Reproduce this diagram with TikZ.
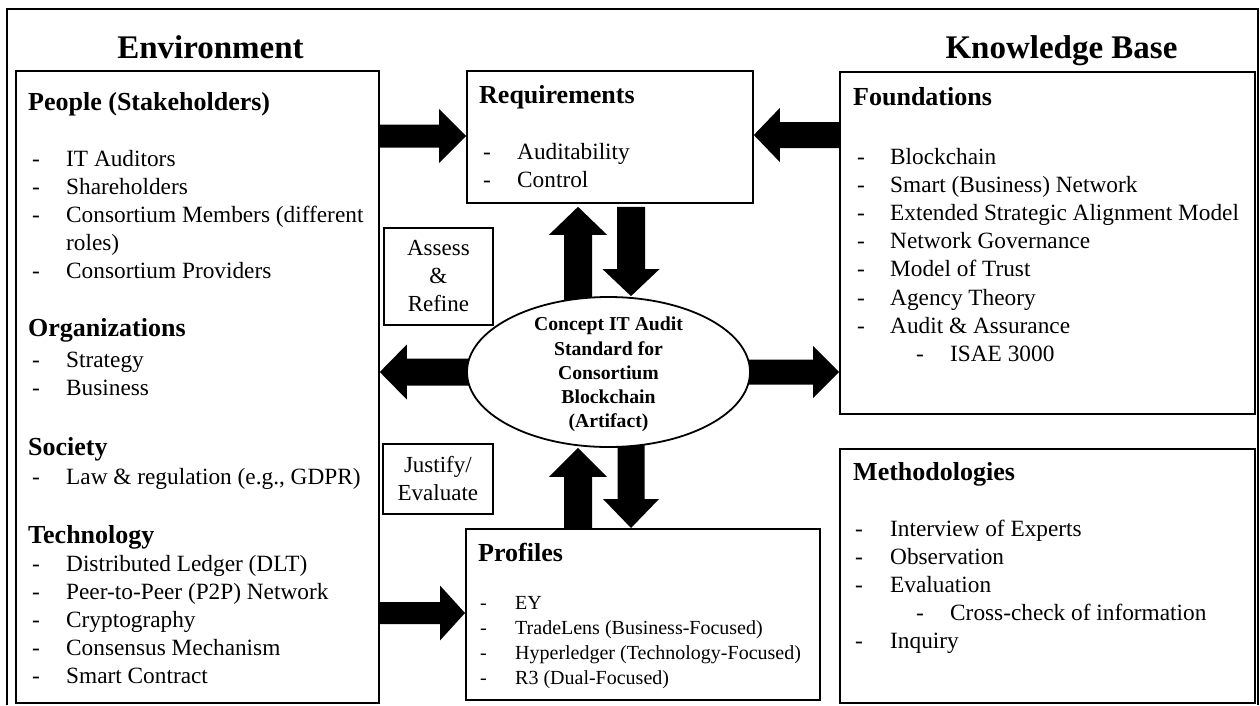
\documentclass[tikz,border=0pt]{standalone}
\usepackage{fontspec}
\setmainfont[Ligatures=NoCommon]{Liberation Serif}
\usetikzlibrary{calc,shapes.geometric,backgrounds}

% block arrow: from, to, half shaft width, half head width, head length
\newcommand\fatarrow[5]{%
  \coordinate (fa) at (#1);
  \coordinate (fb) at (#2);
  \coordinate (fh) at ($(fb)!#5!(fa)$);
  \fill[arrowfill] ($(fa)!#3!90:(fb)$) -- ($(fh)!#3!-90:(fa)$) -- ($(fh)!#4!-90:(fa)$)
     -- (fb) -- ($(fh)!#4!90:(fa)$) -- ($(fh)!#3!90:(fa)$) -- ($(fa)!#3!-90:(fb)$) -- cycle;
}

\begin{document}
\begin{tikzpicture}[x=1pt,y=-1pt,
  box/.style={draw, line width=1.8pt, inner sep=0pt, anchor=north west},
  frame/.style={draw, line width=2pt},
  hd/.style={font=\fontsize{33}{40}\selectfont\bfseries, anchor=base, inner sep=0pt},
  ttl/.style={font=\fontsize{26}{31}\selectfont\bfseries, anchor=base west, inner sep=0pt},
  lst/.style={font=\fontsize{23.3}{28.2}\selectfont, anchor=base west, inner sep=0pt},
  plst/.style={font=\fontsize{20}{25}\selectfont, anchor=base west, inner sep=0pt},
  note/.style={box, align=center, font=\fontsize{23}{28}\selectfont},
  arttxt/.style={align=center, inner sep=0pt, font=\fontsize{19.7}{24.2}\selectfont\bfseries},
  arrowfill/.style={fill=black}]
\useasboundingbox (0,0) rectangle (1260,705);

% outer frame
\draw[frame] (7,705) -- (7,9) -- (1258,9) -- (1258,705);

% column headings
\node[hd] (envH) at (210.5,58) {Environment};
\node[hd] (kbH) at (1061.5,58) {Knowledge Base};

% boxes
\node[box, minimum width=363pt, minimum height=632pt] (env) at (15,70) {};
\node[box, minimum width=286pt, minimum height=132pt] (req) at (466,70) {};
\node[box, minimum width=415pt, minimum height=342pt] (found) at (839,71) {};
\node[box, minimum width=415pt, minimum height=254pt] (meth) at (839,448) {};
\node[box, minimum width=354pt, minimum height=171pt] (prof) at (465,528) {};
\node[note, minimum width=109pt, minimum height=97pt] (assess) at (383,227) {Assess\\\&\\Refine};
\node[note, minimum width=110pt, minimum height=70pt] (justify) at (382,443) {Justify/\\Evaluate};

% central artifact
\node[draw, ellipse, line width=1.8pt, fill=white, inner sep=0pt,
      minimum width=283pt, minimum height=150pt] (art) at (608.5,372) {};
\node[arttxt] (artT) at (608.5,374.5) {Concept IT Audit\\Standard for\\Consortium\\Blockchain\\(Artifact)};

% connectors
\coordinate (xa) at (578,0);
\coordinate (xb) at (631,0);
\coordinate (ya) at (0,136);
\coordinate (yc) at (0,135);
\coordinate (yd) at (0,613);
\begin{pgfonlayer}{background}
  \fatarrow{env.east |- ya}{req.west |- ya}{11.5pt}{27pt}{27pt}
  \fatarrow{found.west |- yc}{req.east |- yc}{13pt}{27pt}{26pt}
  \fatarrow{xa |- art.center}{$(req.south -| xa)+(0,3)$}{14pt}{29pt}{28pt}
  \fatarrow{$(req.south -| xb)+(0,3)$}{xb |- art.north}{14pt}{28.5pt}{27pt}
  \fatarrow{art.center}{env.east |- art.center}{13.5pt}{27.5pt}{27pt}
  \fatarrow{art.center}{found.west |- art.center}{12.5pt}{26pt}{26pt}
  \fatarrow{prof.north -| xa}{xa |- art.south}{14pt}{29pt}{29pt}
  \fatarrow{xb |- art.center}{prof.north -| xb}{13.5pt}{28pt}{29pt}
  \fatarrow{env.east |- yd}{prof.west |- yd}{11pt}{27.5pt}{25pt}
\end{pgfonlayer}

% Environment
\node[ttl] (pplT) at (28,110) {People (Stakeholders)};
\node[lst] (pplL) at (32,166) {\begin{tabular}[t]{@{}p{34pt}@{}l@{}}
 -&IT Auditors\\ -&Shareholders\\ -&Consortium Members (different\\ &roles)\\ -&Consortium Providers\end{tabular}};
\node[ttl] (orgT) at (28,336.5) {Organizations};
\node[lst] (orgL) at (32,367) {\begin{tabular}[t]{@{}p{34pt}@{}l@{}}
 -&Strategy\\ -&Business\end{tabular}};
\node[ttl] (socT) at (28,455.5) {Society};
\node[lst] (socL) at (32,484) {\begin{tabular}[t]{@{}p{34pt}@{}l@{}}
 -&Law \& regulation (e.g., GDPR)\end{tabular}};
\node[ttl] (tecT) at (28,543.5) {Technology};
\node[lst] (tecL) at (32,571) {\begin{tabular}[t]{@{}p{34pt}@{}l@{}}
 -&Distributed Ledger (DLT)\\ -&Peer-to-Peer (P2P) Network\\ -&Cryptography\\
 -&Consensus Mechanism\\ -&Smart Contract\end{tabular}};

% Requirements
\node[ttl] (reqT) at (479,103.5) {Requirements};
\node[lst] (reqL) at (483,159) {\begin{tabular}[t]{@{}p{34pt}@{}l@{}}
 -&Auditability\\ -&Control\end{tabular}};

% Foundations
\node[ttl] (fndT) at (853,105.5) {Foundations};
\node[lst] (fndL) at (857,164) {\begin{tabular}[t]{@{}p{33pt}@{}l@{}}
 -&Blockchain\\ -&Smart (Business) Network\\ -&Extended Strategic Alignment Model\\
 -&Network Governance\\ -&Model of Trust\\ -&Agency Theory\\ -&Audit \& Assurance\\
 &\hspace*{26pt}\makebox[34pt][l]{-}ISAE 3000\end{tabular}};

% Methodologies
\node[ttl] (mthT) at (853,480.5) {Methodologies};
\node[lst] (mthL) at (855,536) {\begin{tabular}[t]{@{}p{35pt}@{}l@{}}
 -&Interview of Experts\\ -&Observation\\ -&Evaluation\\
 &\hspace*{26pt}\makebox[34pt][l]{-}Cross-check of information\\ -&Inquiry\end{tabular}};

% Profiles
\node[ttl] (prfT) at (478,561.5) {Profiles};
\node[plst] (prfL) at (480,609.6) {\begin{tabular}[t]{@{}p{35pt}@{}l@{}}
 -&EY\\ -&TradeLens (Business-Focused)\\ -&Hyperledger (Technology-Focused)\\
 -&R3 (Dual-Focused)\end{tabular}};
\end{tikzpicture}
\end{document}
